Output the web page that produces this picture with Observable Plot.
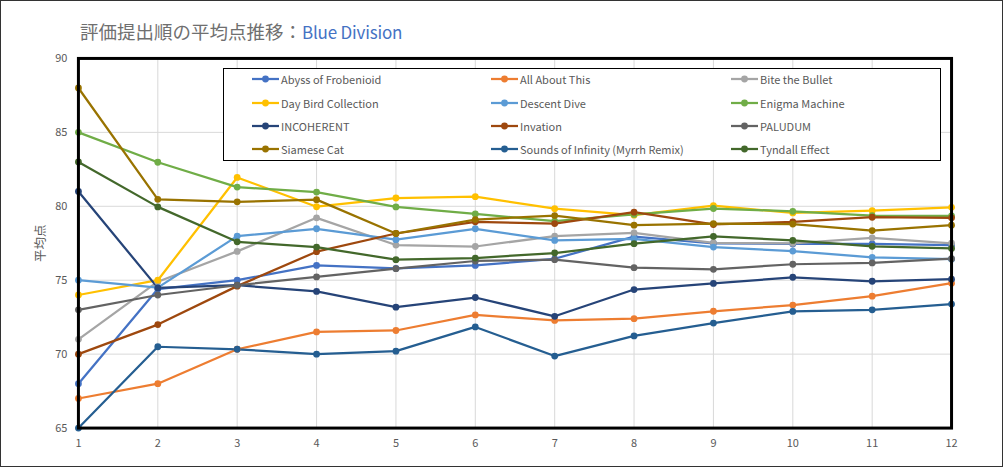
<!DOCTYPE html>
<html>
<head>
<meta charset="utf-8">
<script src="https://cdn.jsdelivr.net/npm/d3@7"></script>
<script src="https://cdn.jsdelivr.net/npm/@observablehq/plot@0.6"></script>
<style>
  html, body { margin: 0; padding: 0; background: #fff; }
  #wrap { position: relative; width: 1003px; height: 467px; box-sizing: border-box; border: 1px solid #333; overflow: hidden; font-family: "Noto Sans CJK JP", "Noto Sans", sans-serif; }
  #chart { position: absolute; left: -1px; top: -1px; }
  #title { position: absolute; left: 79px; top: 17px; font-size: 18.5px; color: #6f6f6f; white-space: nowrap; }
  #title .blue { color: #4472C4; font-size: 17px; letter-spacing: -0.2px; }
  #legend { position: absolute; left: 222px; top: 67px; width: 718px; height: 93px; border: 1px solid #000; background: #fff; box-sizing: border-box; }
  .item { position: absolute; height: 16px; display: flex; align-items: center; font-size: 11px; color: #595959; white-space: nowrap; }
  .item svg { margin-right: 2px; }
  #chart svg g[aria-label="y-axis label"] text { font-size: 12.5px; }
</style>
</head>
<body>
<div id="wrap">
  <div id="chart"></div>
  <div id="title">評価提出順の平均点推移：<span class="blue">Blue Division</span></div>
  <div id="legend"></div>
</div>
<script>
const rounds = [1, 2, 3, 4, 5, 6, 7, 8, 9, 10, 11, 12];
const seriesNames = [
  "Abyss of Frobenioid", "All About This", "Bite the Bullet",
  "Day Bird Collection", "Descent Dive", "Enigma Machine",
  "INCOHERENT", "Invation", "PALUDUM",
  "Siamese Cat", "Sounds of Infinity (Myrrh Remix)", "Tyndall Effect"
];
const seriesColors = [
  "#4472C4", "#ED7D31", "#A5A5A5",
  "#FFC000", "#5B9BD5", "#70AD47",
  "#264478", "#9E480E", "#636363",
  "#997300", "#255E91", "#43682B"
];
const abyss      = [68, 74.4, 75.0, 76.0, 75.8, 76.0, 76.45, 77.95, 77.5, 77.45, 77.45, 77.37];
const allAbout   = [67, 68, 70.33, 71.5, 71.6, 72.65, 72.28, 72.4, 72.9, 73.32, 73.92, 74.8];
const bite       = [71, 74.9, 76.95, 79.22, 77.38, 77.28, 77.98, 78.2, 77.53, 77.5, 77.87, 77.5];
const dayBird    = [74, 75, 81.95, 79.97, 80.56, 80.65, 79.84, 79.4, 80.05, 79.55, 79.7, 79.93];
const descent    = [75, 74.5, 77.98, 78.48, 77.74, 78.48, 77.69, 77.8, 77.24, 76.97, 76.55, 76.42];
const enigma     = [85, 82.98, 81.3, 80.96, 79.96, 79.48, 78.99, 79.45, 79.85, 79.66, 79.37, 79.35];
const incoherent = [81, 74.48, 74.66, 74.24, 73.18, 73.83, 72.56, 74.37, 74.78, 75.2, 74.93, 75.07];
const invation   = [70, 72, 74.6, 76.93, 78.16, 78.95, 78.83, 79.6, 78.77, 78.95, 79.26, 79.22];
const paludum    = [73, 74, 74.66, 75.22, 75.78, 76.3, 76.39, 75.85, 75.74, 76.08, 76.17, 76.46];
const siamese    = [88, 80.47, 80.3, 80.45, 78.16, 79.1, 79.37, 78.72, 78.83, 78.8, 78.36, 78.72];
const sounds     = [65, 70.5, 70.33, 70.0, 70.2, 71.84, 69.87, 71.23, 72.1, 72.89, 73.0, 73.39];
const tyndall    = [83, 79.96, 77.6, 77.24, 76.39, 76.5, 76.84, 77.47, 77.96, 77.69, 77.29, 77.15];
const yTicks = [65, 70, 75, 80, 85, 90];
const yGrid = [70, 75, 80, 85];

const allValues = [abyss, allAbout, bite, dayBird, descent, enigma, incoherent, invation, paludum, siamese, sounds, tyndall];
const data = [];
seriesNames.forEach((name, i) => {
  rounds.forEach((r, j) => data.push({ series: name, round: r, value: allValues[i][j] }));
});

const chart = Plot.plot({
  width: 1003,
  height: 467,
  marginLeft: 78,
  marginRight: 51,
  marginTop: 58,
  marginBottom: 39,
  style: { fontFamily: '"Noto Sans CJK JP", "Noto Sans", sans-serif', fontSize: "11px", color: "#595959", background: "transparent" },
  x: { domain: [1, 12], ticks: rounds, tickSize: 0, tickPadding: 11, label: null, tickFormat: d => String(d) },
  y: { domain: [65, 90], ticks: yTicks, tickSize: 0, tickPadding: 11, label: "平均点", labelAnchor: "center", labelArrow: "none", labelOffset: 42 },
  color: { domain: seriesNames, range: seriesColors },
  marks: [
    Plot.gridX(rounds, { stroke: "#d9d9d9", strokeOpacity: 1, strokeWidth: 1 }),
    Plot.gridY(yGrid, { stroke: "#d9d9d9", strokeOpacity: 1, strokeWidth: 1 }),
    ...seriesNames.map(name => Plot.line(data.filter(d => d.series === name), { x: "round", y: "value", stroke: "series", strokeWidth: 2.25 })),
    ...seriesNames.map(name => Plot.dot(data.filter(d => d.series === name), { x: "round", y: "value", fill: "series", r: 3.4, stroke: "none" })),
    Plot.frame({ stroke: "#000", strokeWidth: 3 })
  ]
});
document.getElementById("chart").appendChild(chart);

// legend
const legend = document.getElementById("legend");
const colX = [28, 267, 507];
const rowY = [2, 26, 49, 72];
seriesNames.forEach((name, i) => {
  const col = i % 3, row = Math.floor(i / 3);
  const div = document.createElement("div");
  div.className = "item";
  div.style.left = colX[col] + "px";
  div.style.top = rowY[row] + "px";
  div.innerHTML = `<svg width="27" height="8"><line x1="0" y1="4" x2="27" y2="4" stroke="${seriesColors[i]}" stroke-width="2.25"/><circle cx="13.5" cy="4" r="3.4" fill="${seriesColors[i]}"/></svg><span>${name}</span>`;
  legend.appendChild(div);
});
</script>
</body>
</html>
